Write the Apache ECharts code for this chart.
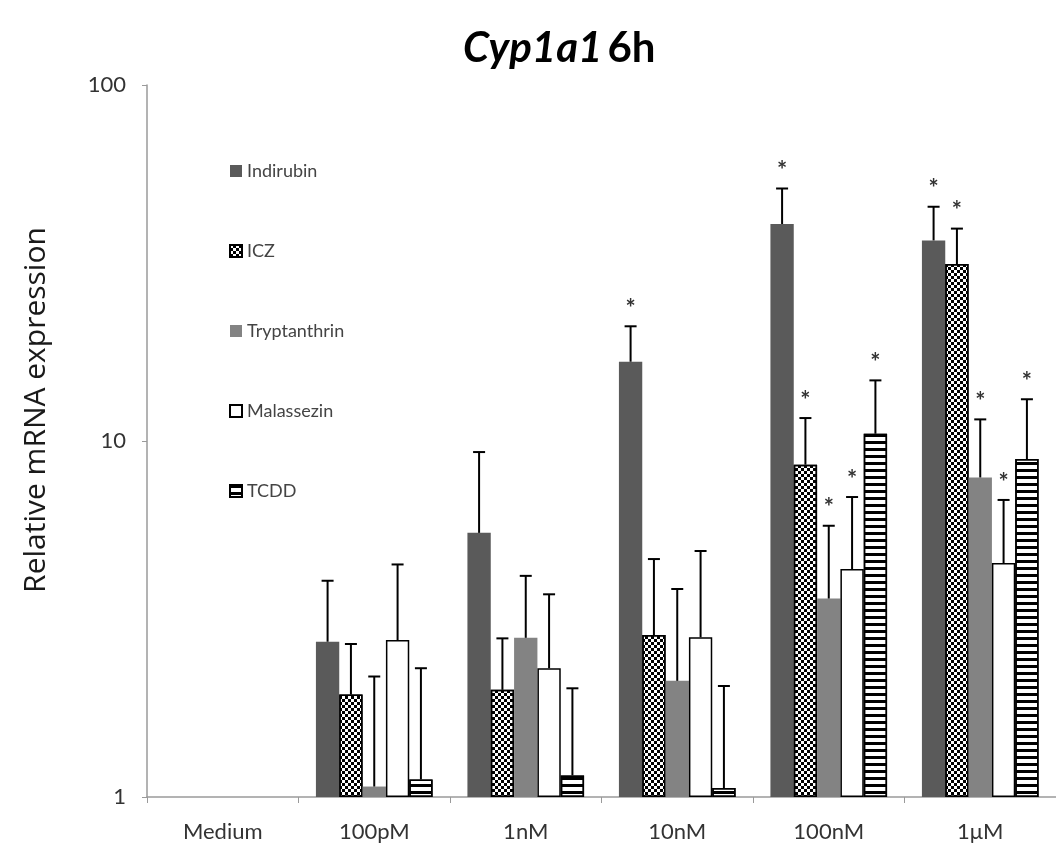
<!DOCTYPE html>
<html>
<head>
<meta charset="utf-8">
<script src="https://cdn.jsdelivr.net/npm/echarts@6/dist/echarts.min.js"></script>
<style>
  html, body { margin: 0; padding: 0; background: #fff; }
  #chart { width: 1056px; height: 847px; }
</style>
</head>
<body>
<div id="chart"></div>
<script>
// data (log scale)
const categories = ['Medium', '100pM', '1nM', '10nM', '100nM', '1μM'];
const seriesNames = ['Indirubin', 'ICZ', 'Tryptanthrin', 'Malassezin', 'TCDD'];

const indirubin = [null, 2.73, 5.52, 16.7, 40.7, 36.6];
const indirubinErr = [null, 4.05, 9.31, 21.0, 51.2, 45.5];
const icz = [null, 1.94, 2.0, 2.85, 8.58, 31.4];
const iczErr = [null, 2.69, 2.79, 4.66, 11.6, 39.5];
const tryptanthrin = [null, 1.07, 2.80, 2.12, 3.61, 7.9];
const tryptanthrinErr = [null, 2.18, 4.18, 3.84, 5.78, 11.5];
const malassezin = [null, 2.76, 2.30, 2.81, 4.37, 4.54];
const malassezinErr = [null, 4.5, 3.71, 4.91, 6.96, 6.83];
const tcdd = [null, 1.12, 1.15, 1.06, 10.48, 8.9];
const tcddErr = [null, 2.30, 2.02, 2.05, 14.8, 13.1];

// significance markers (1 = *)
const indirubinStar = [0, 0, 0, 1, 1, 1];
const iczStar = [0, 0, 0, 0, 1, 1];
const tryptanthrinStar = [0, 0, 0, 0, 1, 1];
const malassezinStar = [0, 0, 0, 0, 1, 1];
const tcddStar = [0, 0, 0, 0, 1, 1];

const means = [indirubin, icz, tryptanthrin, malassezin, tcdd];
const errs = [indirubinErr, iczErr, tryptanthrinErr, malassezinErr, tcddErr];
const stars = [indirubinStar, iczStar, tryptanthrinStar, malassezinStar, tcddStar];

const CAT_GAP = 0.23;
const FONT = 'Lato, "Noto Sans", sans-serif';

const styles = [
  { color: '#5a5a5a' },
  {
    color: '#ffffff', borderColor: '#000', borderWidth: 1.5,
    decal: { symbol: 'rect', symbolSize: 1, color: '#000',
      dashArrayX: [[3, 3], [0, 3, 3, 0]], dashArrayY: [3, 0] }
  },
  { color: '#838383' },
  { color: '#ffffff', borderColor: '#000', borderWidth: 1.5 },
  {
    color: '#ffffff', borderColor: '#000', borderWidth: 1.5,
    decal: { symbol: 'rect', symbolSize: 1, color: '#000',
      dashArrayX: [1, 0], dashArrayY: [3, 4] }
  }
];

const barSeries = seriesNames.map((name, i) => ({
  name: name,
  type: 'bar',
  barGap: '0%',
  barCategoryGap: (CAT_GAP * 100) + '%',
  itemStyle: styles[i],
  data: means[i]
}));

// upper error bars + stars
const errorSeries = seriesNames.map((name, i) => ({
  type: 'custom',
  z: 5,
  silent: true,
  data: categories.map((c, k) => [k, means[i][k], errs[i][k], stars[i][k]])
    .filter(d => d[1] != null),
  renderItem: function (params, api) {
    const ci = api.value(0);
    const band = api.size([1, 1], [ci, 2])[0];
    const bw = band * (1 - CAT_GAP) / seriesNames.length;
    const base = api.coord([ci, api.value(1)]);
    const top = api.coord([ci, api.value(2)]);
    const x = base[0] + (i - 2) * bw;
    const children = [
      { type: 'line', shape: { x1: x, y1: base[1], x2: x, y2: top[1] },
        style: { stroke: '#000', lineWidth: 2 } },
      { type: 'line', shape: { x1: x - 6, y1: top[1], x2: x + 6, y2: top[1] },
        style: { stroke: '#000', lineWidth: 2 } }
    ];
    if (api.value(3)) {
      children.push({
        type: 'text',
        style: { x: x, y: top[1] - 17, text: '*', fill: '#333',
          font: 'bold 24px ' + FONT, align: 'center', verticalAlign: 'middle' }
      });
    }
    return { type: 'group', children: children };
  }
}));

const chart = echarts.init(document.getElementById('chart'));

chart.setOption({
  backgroundColor: '#fff',
  animation: false,
  title: {
    text: '{i|Cyp1a1} {b|6h}',
    left: 458,
    top: 22,
    textStyle: {
      rich: {
        i: { fontStyle: 'italic', fontWeight: 'bold', fontSize: 42, fontFamily: FONT, color: '#000' },
        b: { fontWeight: 'bold', fontSize: 42, fontFamily: FONT, color: '#000' }
      }
    }
  },
  legend: {
    orient: 'vertical',
    left: 224,
    top: 157,
    icon: 'rect',
    itemWidth: 12,
    itemHeight: 12,
    itemGap: 62,
    data: seriesNames,
    textStyle: { fontSize: 18, color: '#444', fontFamily: FONT }
  },
  graphic: [{
    type: 'text',
    x: 36,
    y: 410,
    rotation: Math.PI / 2,
    style: {
      text: 'Relative mRNA expression',
      font: '30px "Open Sans", sans-serif',
      fill: '#1a1a1a',
      align: 'center',
      verticalAlign: 'middle'
    }
  }],
  grid: { left: 147, top: 85, width: 912, height: 712 },
  xAxis: {
    type: 'category',
    data: categories,
    axisLine: { lineStyle: { color: '#9a9a9a', width: 1.5 } },
    axisTick: { show: true, length: 6, lineStyle: { color: '#9a9a9a' } },
    axisLabel: { margin: 24, fontSize: 22, color: '#333', fontFamily: FONT }
  },
  yAxis: {
    type: 'log',
    logBase: 10,
    min: 1,
    max: 100,
    axisLine: { show: true, lineStyle: { color: '#9a9a9a', width: 1.5 } },
    axisTick: { show: true, length: 5, lineStyle: { color: '#9a9a9a' } },
    splitLine: { show: false },
    axisLabel: { margin: 21, fontSize: 22, color: '#333', fontFamily: FONT }
  },
  series: barSeries.concat(errorSeries)
});
</script>
</body>
</html>
